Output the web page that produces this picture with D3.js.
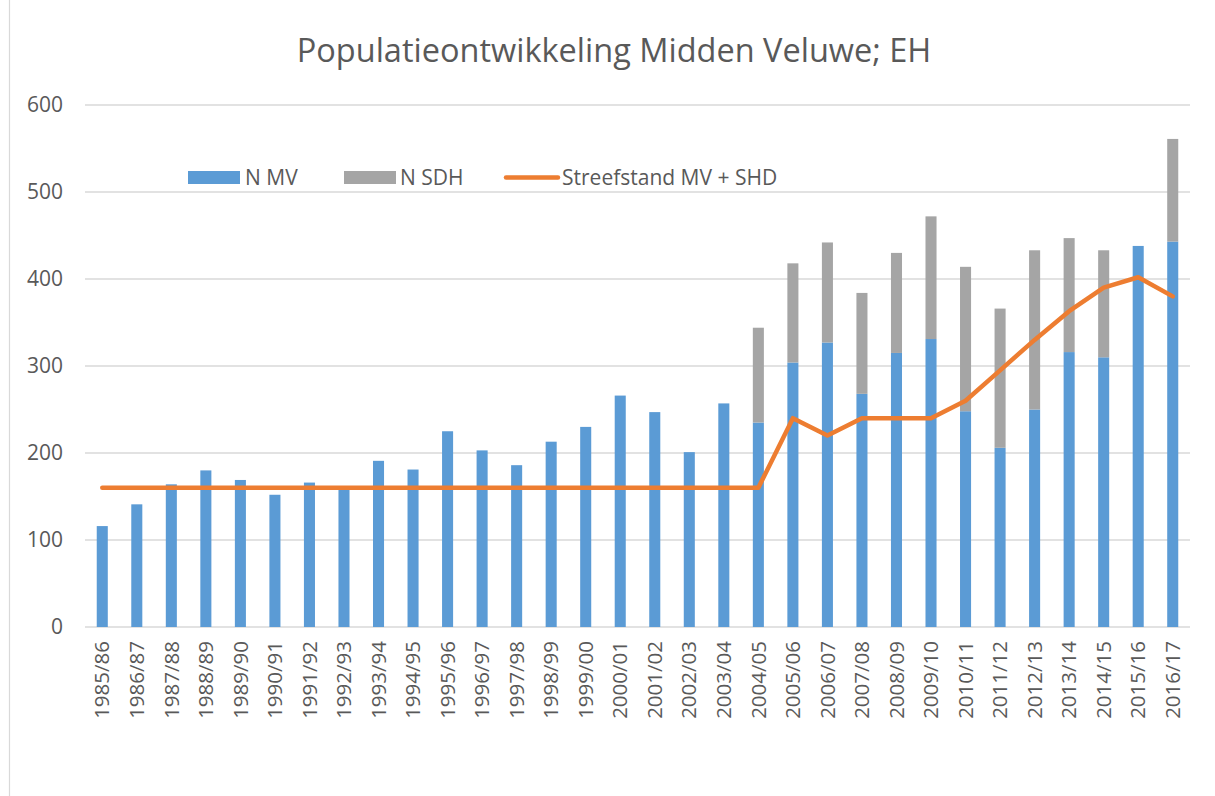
<!DOCTYPE html>
<meta charset="utf-8">
<html>
<head>
<style>
  body { margin: 0; background: #fff; }
  text { font-family: "Open Sans", sans-serif; fill: #595959; }
  .grid line { stroke: #d9d9d9; stroke-width: 1.5px; }
  .line { fill: none; stroke: #ed7d31; stroke-width: 4.5px; stroke-linejoin: round; stroke-linecap: round; }
</style>
</head>
<body>
<svg width="1215" height="796"></svg>
<script src="https://d3js.org/d3.v7.min.js"></script>
<script>

// seasons on the x axis
var seasons = ["1985/86","1986/87","1987/88","1988/89","1989/90","1990/91","1991/92","1992/93",
  "1993/94","1994/95","1995/96","1996/97","1997/98","1998/99","1999/00","2000/01","2001/02",
  "2002/03","2003/04","2004/05","2005/06","2006/07","2007/08","2008/09","2009/10","2010/11",
  "2011/12","2012/13","2013/14","2014/15","2015/16","2016/17"];

// N MV (blue)
var nMV = [116,141,164,180,169,152,166,159,191,181,225,203,186,213,230,266,247,
  201,257,235,304,327,268,315,331,248,206,250,316,310,438,443];

// N SDH (grey, stacked on top)
var nSDH = [0,0,0,0,0,0,0,0,0,0,0,0,0,0,0,0,0,
  0,0,109,114,115,116,115,141,166,160,183,131,123,0,118];

// Streefstand MV + SHD (orange line)
var streef = [160,160,160,160,160,160,160,160,160,160,160,160,160,160,160,160,160,
  160,160,160,240,220,240,240,240,260,295,330,363,390,402,380];

var yTicks = [0,100,200,300,400,500,600];

var svg = d3.select("svg"),
    margin = {top: 105, right: 25, bottom: 169, left: 85},
    width = +svg.attr("width") - margin.left - margin.right,
    height = +svg.attr("height") - margin.top - margin.bottom;

// outer chart border (only left edge visible)
svg.append("line")
    .attr("x1", 9.5).attr("x2", 9.5)
    .attr("y1", 0).attr("y2", 796)
    .attr("stroke", "#d9d9d9").attr("stroke-width", 1.2);

svg.append("text")
    .attr("x", 614).attr("y", 62)
    .attr("text-anchor", "middle")
    .style("font-size", "32.5px")
    .text("Populatieontwikkeling Midden Veluwe; EH");

var g = svg.append("g")
    .attr("transform", "translate(" + margin.left + "," + margin.top + ")");

var x = d3.scaleBand().domain(seasons).range([0, width]).paddingInner(0.68).paddingOuter(0.34);
var y = d3.scaleLinear().domain([0, 600]).range([height, 0]);

// gridlines
g.append("g").attr("class", "grid")
  .selectAll("line").data(yTicks).enter().append("line")
    .attr("x1", 0).attr("x2", width)
    .attr("y1", function(d) { return y(d); })
    .attr("y2", function(d) { return y(d); });

// y labels
g.append("g").selectAll("text").data(yTicks).enter().append("text")
    .attr("x", -22)
    .attr("y", function(d) { return y(d); })
    .attr("dy", "0.35em")
    .attr("text-anchor", "end")
    .style("font-size", "21px")
    .text(function(d) { return d; });

// x labels (rotated)
g.append("g").selectAll("text").data(seasons).enter().append("text")
    .attr("transform", function(d) {
      return "translate(" + (x(d) + x.bandwidth() / 2) + "," + (height + 14) + ") rotate(-90)";
    })
    .attr("dy", "0.35em")
    .attr("text-anchor", "end")
    .style("font-size", "20.5px")
    .text(function(d) { return d; });

// stacked bars
var rows = seasons.map(function(s, i) { return {season: s, mv: nMV[i], sdh: nSDH[i]}; });
var stack = d3.stack().keys(["mv", "sdh"])(rows);
var colors = {mv: "#5b9bd5", sdh: "#a5a5a5"};

g.selectAll("g.layer").data(stack).enter().append("g")
    .attr("class", "layer")
    .attr("fill", function(d) { return colors[d.key]; })
  .selectAll("rect").data(function(d) { return d; }).enter().append("rect")
    .attr("x", function(d) { return x(d.data.season); })
    .attr("width", x.bandwidth())
    .attr("y", function(d) { return y(d[1]); })
    .attr("height", function(d) { return y(d[0]) - y(d[1]); });

// target line
var line = d3.line()
    .x(function(d, i) { return x(seasons[i]) + x.bandwidth() / 2; })
    .y(function(d) { return y(d); });

g.append("path").datum(streef).attr("class", "line").attr("d", line);

// legend
var leg = svg.append("g").attr("transform", "translate(0,177.5)");
leg.append("rect").attr("x", 188).attr("y", -6.5).attr("width", 52).attr("height", 13).attr("fill", colors.mv);
leg.append("text").attr("x", 245).attr("y", 0).attr("dy", "0.35em").style("font-size", "21px").text("N MV");
leg.append("rect").attr("x", 344).attr("y", -6.5).attr("width", 52).attr("height", 13).attr("fill", colors.sdh);
leg.append("text").attr("x", 400).attr("y", 0).attr("dy", "0.35em").style("font-size", "21px").text("N SDH");
leg.append("line").attr("x1", 506).attr("x2", 558).attr("y1", 0).attr("y2", 0)
    .attr("class", "line");
leg.append("text").attr("x", 562).attr("y", 0).attr("dy", "0.35em").style("font-size", "21px").text("Streefstand MV + SHD");

</script>
</body>
</html>
